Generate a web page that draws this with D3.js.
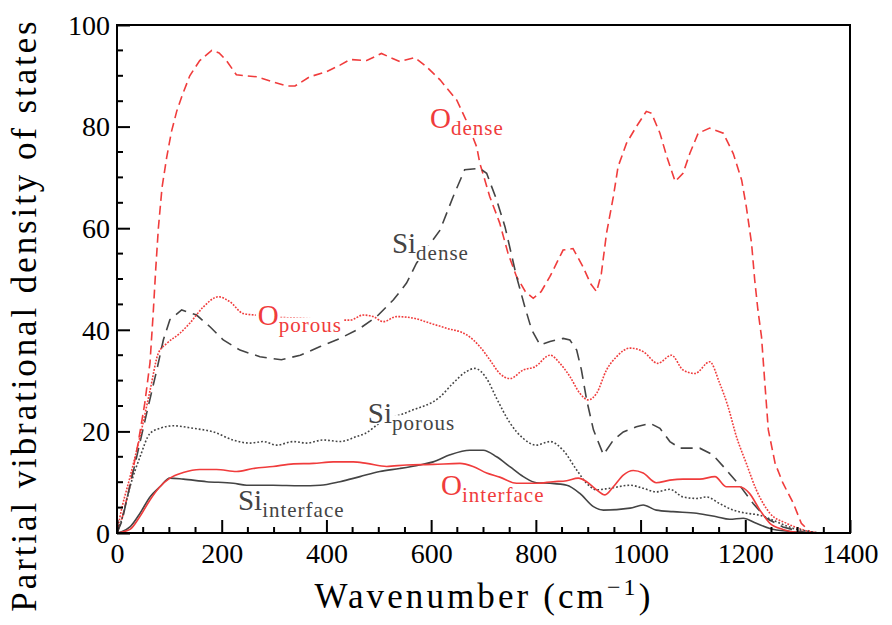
<!DOCTYPE html>
<html><head><meta charset="utf-8">
<script src="https://cdn.jsdelivr.net/npm/d3@7"></script>
</head><body style="margin:0">
<svg id="c" width="892" height="625"></svg>
<script>
// ---- data (wavenumber cm^-1, PVDOS) ----
const oDense = [[0,0],[10,3],[25,9.5],[40,17.5],[53,25.5],[63,33.5],[69,43],[74,52],[79,60],[86,68],[95,74],[104,79],[114,83],[124,86],[139,90],[158,93],[181,95],[195,94.5],[209,93],[228,90.2],[267,89.8],[298,88.8],[324,88],[340,88],[368,89.8],[400,90.8],[426,92.1],[445,93.2],[477,93],[505,94.4],[540,92.8],[569,93.6],[591,91.8],[617,89.2],[649,85.2],[668,81],[687,76],[693,72.8],[712,66.2],[731,61],[747,55],[763,50.5],[780,47.5],[795,46.2],[810,47.5],[827,50.5],[852,55.7],[871,56],[890,52.4],[905,49],[916,47.5],[925,51],[935,59],[948,66.2],[957,72.1],[973,76.7],[992,80],[1011,83],[1021,82.6],[1037,78.7],[1050,74.1],[1066,69.2],[1081,70.8],[1094,74.7],[1110,78.7],[1132,79.7],[1158,78.7],[1177,74.7],[1193,69.5],[1202,64.2],[1212,57],[1218,49.8],[1224,44],[1231,38.6],[1237,30],[1244,20.3],[1257,13.7],[1272,9.8],[1292,5.8],[1307,1.9],[1323,0.3],[1340,0],[1400,0]];
const siDense = [[0,0],[10,2.5],[18.5,6.5],[37.6,15],[56.7,23.6],[75.8,32],[88.5,38],[101,42],[123.5,43.9],[152,42.9],[177.6,40.6],[203,38],[235,36],[273,34.7],[314,34.1],[350,35],[388,36.7],[426,38.3],[464,40.3],[496,42.6],[528,45.9],[553,49.2],[572,53.1],[595,56.5],[617,59.6],[642,66.2],[664,71.5],[693,71.8],[706,70.8],[725,65.6],[741,60.3],[753,55],[763,50.5],[779,44.5],[792,40],[808,37],[827,37.7],[852,38.3],[865,38],[878,36],[887,32.1],[897,26.2],[910,20.3],[929,15.4],[948,18.3],[967,19.9],[992,20.9],[1018,21.6],[1037,20.6],[1056,18],[1075,16.7],[1113,16.7],[1138,15.4],[1164,12.4],[1189,9.4],[1215,5.8],[1240,2.9],[1272,1.2],[1304,0.3],[1330,0],[1400,0]];
const oPorous = [[0,0],[5.7,3.2],[24.8,11],[44,19],[63,28],[79,35.4],[95,37.3],[120,39.3],[139,41.3],[165,44.5],[193.5,46.5],[216,45.5],[241,43.2],[263.5,42.9],[300,42.5],[350,42.3],[400,42],[445,41.9],[470,42.9],[489.5,42.6],[508.5,41.6],[534,42.6],[566,42.3],[598,41.3],[629.5,40.3],[668,39],[693,36.7],[712,34.1],[731,31.4],[751,30.4],[776,32.1],[798,32.7],[827,35],[846,33.4],[865,30.8],[884,27.5],[900,26.2],[916,27.5],[935,32.1],[954,34.7],[980,36.4],[1005,35.7],[1033,33.4],[1059,35],[1081,32.1],[1104,31.4],[1132,33.7],[1151,29.5],[1167,24.9],[1183,19],[1202,13.7],[1221,8.5],[1247,3.9],[1279,1.9],[1311,0.6],[1335,0],[1400,0]];
const siPorous = [[0,0],[10,3],[24.8,9.1],[44,15],[63,19.6],[82,20.6],[107.5,21.1],[146,20.6],[184,19.9],[222,18.3],[254,17.7],[279.5,18],[305,17.3],[337,18],[362,17.7],[394,18.3],[426,18],[458,19],[474,19.6],[500,21.5],[560,24],[617,26.8],[642,29.5],[667.6,31.8],[683.5,32.4],[706,30.4],[725,26.5],[751,21.6],[776,18.6],[801,17.3],[827,18],[852,16.3],[878,12.4],[897,9.8],[916,8.5],[941,8.8],[980,9.4],[1005,8.8],[1030,8.1],[1056,8.6],[1081,7.1],[1107,6.8],[1126,7.1],[1151,5.8],[1177,4.5],[1202,3.9],[1228,3.5],[1260,2.2],[1292,0.9],[1323,0.3],[1345,0],[1400,0]];
const siInterface = [[0,0],[10,0.3],[24.8,1.2],[44,3.9],[63,7.1],[82,9.1],[101,10.8],[126.5,10.6],[171,10.1],[222,9.8],[247.6,9.4],[298,9.4],[349.5,9.3],[388,9.4],[426,10.1],[464,11.1],[502,12.1],[540,12.7],[578,13.4],[604,14],[636,15.4],[674,16.3],[699.5,16.3],[725,15],[751,13],[776,11.1],[801,9.9],[827,9.8],[859,9.4],[884,7.8],[910,5.2],[929,4.5],[980,4.9],[1005,5.5],[1030,4.5],[1062,4.2],[1107,3.9],[1145,3.2],[1170,2.7],[1196,2.9],[1221,1.9],[1247,0.9],[1285,0.3],[1320,0],[1400,0]];
const oInterface = [[0,0],[10,0.2],[24.8,0.7],[44,3.3],[63,6.5],[82,9.1],[101,10.8],[126.5,11.9],[158,12.5],[190,12.5],[228.5,12.1],[260,12.7],[298,13.1],[337,13.6],[375,13.7],[413,14],[451,14],[477,13.7],[515,13.1],[553,13.4],[604,13.5],[655,13.7],[680,13.1],[706,11.8],[731,11],[763,9.8],[801,9.8],[833,10.1],[859,10.3],[881,10.8],[897,10.1],[916,8.5],[932,7.5],[948,9.1],[967,11.4],[986,12.3],[1005,11.8],[1030,9.9],[1056,10.4],[1081,10.6],[1113,10.6],[1142,11.1],[1164,9.1],[1189,9.1],[1208,7.8],[1228,4.5],[1247,1.9],[1272,0.7],[1304,0.1],[1330,0],[1400,0]];

const xTicks = [0,200,400,600,800,1000,1200,1400];
const yTicks = [0,20,40,60,80,100];
// label: main text, subscript, anchor (wavenumber, value)
const labels = [
  {t:"O", s:"dense", x:598, y:79.7, red:true},
  {t:"Si", s:"dense", x:525, y:55.1, red:false},
  {t:"O", s:"porous", x:269, y:40.9, red:true},
  {t:"Si", s:"porous", x:479, y:21.65, red:false},
  {t:"Si", s:"interface", x:231, y:4.53, red:false},
  {t:"O", s:"interface", x:619, y:7.48, red:true}
];

const RED = "#f03c3c", GRAY = "#444444";
const FONT = "'Liberation Serif', serif";
// approximate Times-like advance widths (em) used to size label backgrounds without layout queries
const EM = {O:.722,S:.556,i:.278,d:.5,e:.444,n:.5,s:.389,p:.5,o:.5,r:.333,u:.5,t:.278,f:.333,a:.444,c:.444};
const strW = (s, fs, ls) => s.split("").reduce((a,ch)=>a + (EM[ch]||.5)*fs + ls, 0);

const svg = d3.select("#c");
const x = d3.scaleLinear().domain([0,1400]).range([117,850]);
const y = d3.scaleLinear().domain([0,100]).range([533,25]);

const series = [
  {d:oDense, c:RED, dash:"9,5", curve:d3.curveLinear},
  {d:siDense, c:GRAY, dash:"12,7", curve:d3.curveLinear},
  {d:oPorous, c:RED, dash:"1.8,1.4", curve:d3.curveMonotoneX},
  {d:siPorous, c:GRAY, dash:"1.8,2", curve:d3.curveMonotoneX},
  {d:siInterface, c:GRAY, dash:null, curve:d3.curveMonotoneX},
  {d:oInterface, c:RED, dash:null, curve:d3.curveMonotoneX}
];
const g = svg.append("g");
series.forEach(s => {
  const line = d3.line().x(d=>x(d[0])).y(d=>y(d[1])).curve(s.curve);
  g.append("path").attr("d", line(s.d)).attr("fill","none")
    .attr("stroke", s.c).attr("stroke-width",1.6)
    .attr("stroke-dasharray", s.dash);
});

// labels with tight white boxes behind each part
const MAINFS = 29, SUBFS = 21, SUBDY = 7, SUBLS = 1;
labels.forEach(l => {
  const lg = svg.append("g");
  const bx = x(l.x), by = y(l.y);
  const w1 = strW(l.t, MAINFS, 0), w2 = strW(l.s, SUBFS, SUBLS);
  const hasDesc = /[pqgy]/.test(l.s);
  lg.append("rect").attr("x", bx-2).attr("y", by - 0.72*MAINFS).attr("width", w1+3)
    .attr("height", 0.76*MAINFS).attr("fill","#fff");
  lg.append("rect").attr("x", bx + w1).attr("y", by + SUBDY - 0.70*SUBFS).attr("width", w2+2)
    .attr("height", (hasDesc ? 0.95 : 0.74)*SUBFS).attr("fill","#fff");
  const txt = lg.append("text").attr("x", bx).attr("y", by).attr("fill", l.red ? RED : GRAY)
    .style("font-family", FONT);
  txt.append("tspan").attr("font-size", MAINFS).text(l.t);
  txt.append("tspan").attr("font-size", SUBFS).attr("dy", SUBDY).attr("letter-spacing", SUBLS).text(l.s);
});

// axes: bottom & left with inward ticks
const xAxis = d3.axisBottom(x).tickValues(xTicks).tickSize(-13).tickFormat(d3.format("d"));
const xa = svg.append("g").attr("transform","translate(0,533)").call(xAxis);
const yAxis = d3.axisLeft(y).tickValues(yTicks).tickSize(-13).tickFormat(d3.format("d"));
const ya = svg.append("g").attr("transform","translate(117,0)").call(yAxis);
[xa, ya].forEach(a => {
  a.attr("font-family", null).attr("font-size", null);
  a.select(".domain").remove();
  a.selectAll(".tick line").attr("stroke","#000").attr("stroke-width",2);
  a.selectAll(".tick text").attr("font-size", 28).attr("fill","#000").style("font-family", FONT);
});
xa.selectAll(".tick text").attr("dy", null).attr("y", 30);
ya.selectAll(".tick text").attr("x", -7).attr("dy", "0.33em");
// minor ticks
const minorX = d3.range(0,1401,50).filter(v => v % 200);
const minorY = d3.range(0,101,5).filter(v => v % 20);
svg.append("g").selectAll("line").data(minorX).join("line")
  .attr("x1", d=>x(d)).attr("x2", d=>x(d)).attr("y1",533).attr("y2",527)
  .attr("stroke","#000").attr("stroke-width",2);
svg.append("g").selectAll("line").data(minorY).join("line")
  .attr("y1", d=>y(d)).attr("y2", d=>y(d)).attr("x1",117).attr("x2",123)
  .attr("stroke","#000").attr("stroke-width",2);
// frame
svg.append("rect").attr("x",117).attr("y",25).attr("width",733).attr("height",508)
  .attr("fill","none").attr("stroke","#000").attr("stroke-width",2);

// axis titles (letter-spacing fixed, no layout queries)
svg.append("text").attr("transform","translate(36,315) rotate(-90)")
  .attr("text-anchor","middle").attr("font-size",35).attr("letter-spacing", 2.9)
  .style("font-family", FONT)
  .text("Partial vibrational density of states");
const xt = svg.append("text").attr("x",484).attr("y",608).attr("text-anchor","middle")
  .attr("font-size",35).attr("letter-spacing", 3.1).style("font-family", FONT);
xt.append("tspan").text("Wavenumber (cm");
xt.append("tspan").attr("font-size",24).attr("dy",-13).text("−1");
xt.append("tspan").attr("dy",13).text(")");
</script>
</body></html>
